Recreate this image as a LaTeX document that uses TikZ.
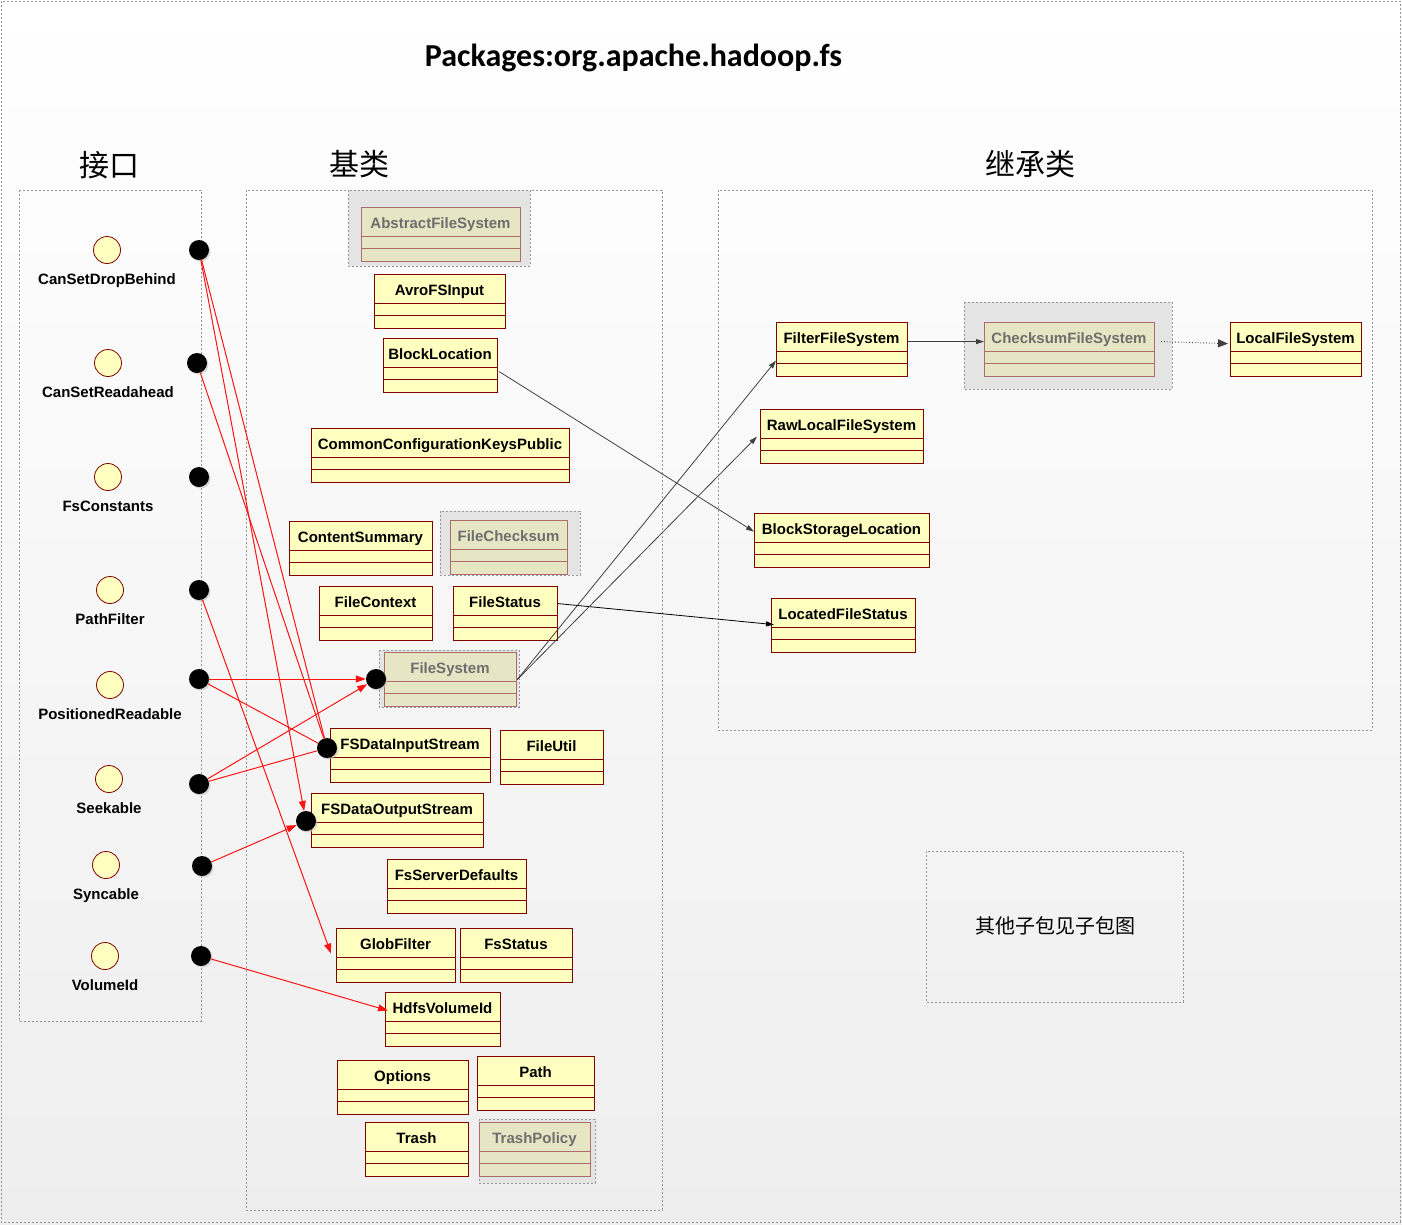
\documentclass[tikz,border=0pt]{standalone}
\usepackage{fontspec}
\setmainfont{Liberation Sans}
\newfontfamily\titlefont{Carlito}
\newfontfamily\cjk{Noto Sans CJK SC}
\usetikzlibrary{arrows.meta}
\usetikzlibrary{calc}
\usetikzlibrary{shadows}

\definecolor{clsyellow}{RGB}{255,255,192}
\definecolor{clsborder}{RGB}{128,0,0}
\definecolor{absfill}{RGB}{230,230,196}
\definecolor{absborder}{RGB}{170,108,108}
\definecolor{absgray}{RGB}{110,110,110}
\definecolor{grpfill}{RGB}{228,228,228}
\definecolor{frameline}{RGB}{150,150,150}
\definecolor{linkred}{RGB}{255,20,20}
\definecolor{linkgray}{RGB}{64,64,64}
\definecolor{bgbottom}{RGB}{238,238,238}

\tikzset{
  panel/.style={draw=frameline, dash pattern=on 2pt off 2pt, line width=0.7pt},
  group/.style={panel, fill=grpfill},
  clsbox/.style={draw=clsborder, fill=clsyellow, line width=1.2pt, inner sep=0pt, anchor=north west},
  absbox/.style={draw=absborder, fill=absfill, line width=1.2pt, inner sep=0pt, anchor=north west},
  clsline/.style={draw=clsborder, line width=1pt},
  absline/.style={draw=absborder, line width=1pt},
  clstext/.style={font=\bfseries\fontsize{15}{18}\selectfont, text=black, inner sep=0pt, anchor=base},
  abstext/.style={clstext, text=absgray},
  iface/.style={circle, draw=clsborder, fill=clsyellow, line width=0.8pt, minimum size=27pt, inner sep=0pt},
  port/.style={circle, fill=black, minimum size=20pt, inner sep=0pt,
    drop shadow={shadow xshift=1.5pt, shadow yshift=-1.5pt, fill=black!25, opacity=0.6}},
  redlink/.style={draw=linkred, line width=1pt},
  redarrow/.style={redlink, -{Triangle[length=10pt,width=7pt]}},
  graylink/.style={draw=linkgray, line width=0.8pt, -{Triangle[length=8pt,width=5pt]}},
}

% class box: [style] name, left, top, width, text
\newcommand{\cls}[6][cls]{%
  \node[#1box, minimum width=#5pt, minimum height=54pt] (#2) at (#3,#4) {};
  \draw[#1line] (#3,#4+29) -- ++(#5,0) (#3,#4+41) -- ++(#5,0);
  \node[#1text] (#2-t) at (#3+#5/2,#4+21) {#6};
}
% interface lollipop: name, x, y, text
\newcommand{\iface}[4]{%
  \node[iface] (#1) at (#2,#3) {};
  \node[clstext] (#1-t) at (#2,#3+34) {#4};
}

\begin{document}
\begin{tikzpicture}[x=1pt,y=1pt,yscale=-1,xscale=1]
\useasboundingbox (0,0) rectangle (1402,1224);
%Background
\shade[top color=white, bottom color=bgbottom] (0,0) rectangle (1402,1224);
\draw[panel] (1,1) rectangle (1400,1222);

% Text Node
\node[font=\titlefont\bfseries\fontsize{32}{38}\selectfont, anchor=base] (title) at (633.5,66) {Packages:org.apache.hadoop.fs};
\node[font=\cjk\fontsize{30}{34}\selectfont] (head-if) at (109,165) {接口};
\node[font=\cjk\fontsize{30}{34}\selectfont] (head-base) at (359,164) {基类};
\node[font=\cjk\fontsize{30}{34}\selectfont] (head-sub) at (1030,164) {继承类};

%Shape: Panels
\draw[panel] (19,190) rectangle (201,1021);
\draw[panel] (246,190) rectangle (662,1210);
\draw[panel] (718,190) rectangle (1372,730);
\draw[panel] (926,851) rectangle (1183,1002);
\node[font=\cjk\fontsize{20}{24}\selectfont] (others) at (1055,926) {其他子包见子包图};

%Shape: Abstract class groups
\draw[group] (348,190) rectangle (530,266);
\draw[group] (440,511) rectangle (580,575);
\draw[group] (379,650) rectangle (519,707);
\draw[group] (479,1119) rectangle (595,1183);
\draw[group] (964,302) rectangle (1172,389);

%Interfaces
\iface{drop}{107}{250}{CanSetDropBehind}
\iface{read}{108}{363}{CanSetReadahead}
\iface{const}{108}{477}{FsConstants}
\iface{pathf}{110}{590}{PathFilter}
\iface{pos}{110}{685}{PositionedReadable}
\iface{seek}{109}{779}{Seekable}
\iface{sync}{106}{865}{Syncable}
\iface{vol}{105}{956}{VolumeId}

%Base classes
\cls[abs]{afs}{361}{207}{159}{AbstractFileSystem}
\cls{avro}{374}{274}{131}{AvroFSInput}
\cls{blockloc}{383}{338}{114}{BlockLocation}
\cls{conf}{311}{428}{258}{CommonConfigurationKeysPublic}
\cls{content}{289}{521}{143}{ContentSummary}
\cls[abs]{checksum}{450}{520}{117}{FileChecksum}
\cls{context}{319}{586}{113}{FileContext}
\cls{status}{453}{586}{104}{FileStatus}
\cls[abs]{fs}{384}{652}{132}{FileSystem}
\cls{fsin}{330}{728}{160}{FSDataInputStream}
\cls{util}{500}{730}{103}{FileUtil}
\cls{fsout}{311}{793}{172}{FSDataOutputStream}
\cls{defaults}{387}{859}{139}{FsServerDefaults}
\cls{glob}{336}{928}{119}{GlobFilter}
\cls{fsstatus}{460}{928}{112}{FsStatus}
\cls{hdfs}{385}{992}{115}{HdfsVolumeId}
\cls{options}{337}{1060}{131}{Options}
\cls{path}{477}{1056}{117}{Path}
\cls{trash}{365}{1122}{103}{Trash}
\cls[abs]{trashpol}{479}{1122}{111}{TrashPolicy}

%Inherited classes
\cls{filterfs}{776}{322}{131}{FilterFileSystem}
\cls[abs]{checkfs}{984}{322}{170}{ChecksumFileSystem}
\cls{localfs}{1230}{322}{131}{LocalFileSystem}
\cls{rawfs}{760}{409}{163}{RawLocalFileSystem}
\cls{bsl}{754}{513}{175}{BlockStorageLocation}
\cls{located}{771}{598}{144}{LocatedFileStatus}

%Ports
\node[port] (p-drop) at (199,250) {};
\node[port] (p-read) at (197,363) {};
\node[port] (p-const) at (199,477) {};
\node[port] (p-path) at (199,590) {};
\node[port] (p-pos) at (199,679) {};
\node[port] (p-seek) at (199,784) {};
\node[port] (p-sync) at (202,866) {};
\node[port] (p-vol) at (201,956) {};
\node[port] (p-fs) at (376,679) {};
\node[port] (p-fsin) at (327,748) {};
\node[port] (p-fsout) at (306,821) {};

%Realisation links
\draw[redlink] (p-drop) -- (p-fsin);
\draw[redarrow] (p-drop) -- (p-fsout);
\draw[redlink] (p-read) -- (p-fsin);
\draw[redarrow] (p-path) -- ($(glob.west)+(-5,-2)$);
\draw[redarrow] (p-pos) -- (p-fs);
\draw[redlink] (p-pos) -- (p-fsin);
\draw[redarrow] (p-seek) -- (p-fs);
\draw[redlink] (p-seek) -- (p-fsin);
\draw[redarrow] (p-sync) -- (p-fsout);
\draw[redarrow] (p-vol) -- ($(hdfs.west)+(3,-9)$);

%Inheritance links
\draw[graylink] ($(blockloc.east)+(1,6)$) -- ($(bsl.west)+(0,-9)$);
\draw[graylink, draw=black] ($(status.east)+(0,-10)$) -- ($(located.west)+(3,-1)$);
\draw[graylink] (fs.east) -- ($(filterfs.west)+(0,11)$);
\draw[graylink] (fs.east) -- ($(rawfs.west)+(-3,0)$);
\draw[graylink] ($(filterfs.east)+(0,-8)$) -- ($(checkfs.west)+(0,-8)$);
\draw[graylink, dotted, line width=1pt, -{Triangle[length=10pt,width=8pt]}] ($(checkfs.east)+(6,-8)$) -- ($(localfs.west)+(-2,-6)$);

\end{tikzpicture}
\end{document}
